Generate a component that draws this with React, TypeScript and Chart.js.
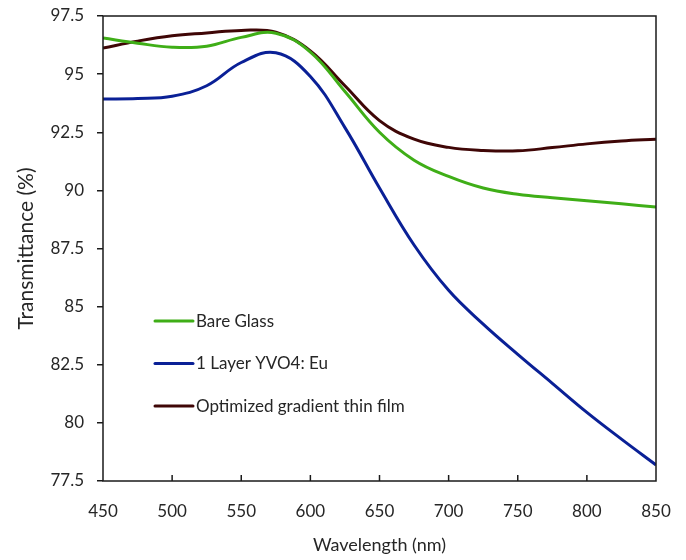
import React, { useEffect, useRef } from "react";
import { Chart, registerables } from "chart.js";

Chart.register(...registerables);

const wavelengths = [450, 475, 500, 525, 550, 575, 600, 625, 650, 675, 700, 725, 750, 775, 800, 825, 850];
const bareGlass = [96.55, 96.33, 96.16, 96.2, 96.58, 96.76, 95.95, 94.25, 92.5, 91.3, 90.6, 90.1, 89.83, 89.68, 89.55, 89.42, 89.28];
const oneLayer = [93.93, 93.95, 94.05, 94.5, 95.5, 95.92, 94.9, 92.7, 90.1, 87.65, 85.7, 84.25, 82.95, 81.7, 80.45, 79.3, 78.19];
const optimized = [96.12, 96.42, 96.65, 96.77, 96.88, 96.8, 96.0, 94.5, 93.0, 92.2, 91.85, 91.72, 91.7, 91.84, 92.0, 92.12, 92.2];
const seriesLabels = ["Bare Glass", "1 Layer YVO4: Eu", "Optimized gradient thin film"];
const seriesColors = ["#3fae17", "#0a2096", "#3f0606"];
const xTicks = [450, 500, 550, 600, 650, 700, 750, 800, 850];

const FONT = "Lato, 'Open Sans', sans-serif";

const framePlugin = {
  id: "frame",
  afterDatasetsDraw(chart: any) {
    const { ctx, chartArea, scales } = chart;
    ctx.save();
    ctx.strokeStyle = "#1a1a1a";
    ctx.lineWidth = 1.5;
    ctx.strokeRect(chartArea.left, chartArea.top, chartArea.right - chartArea.left, chartArea.bottom - chartArea.top);
    // inward x ticks
    const xs = scales.x;
    for (const v of xTicks) {
      if (v === xTicks[0] || v === xTicks[xTicks.length - 1]) continue;
      const px = xs.getPixelForValue(v);
      ctx.beginPath();
      ctx.moveTo(px, chartArea.bottom);
      ctx.lineTo(px, chartArea.bottom - 6);
      ctx.stroke();
    }
    // legend inside plot
    const h = chartArea.bottom - chartArea.top;
    const x0 = chartArea.left + 52;
    const x1 = chartArea.left + 90;
    let y = chartArea.top + 0.656 * h;
    const step = 42.5;
    ctx.font = `17px ${FONT}`;
    ctx.textBaseline = "middle";
    ctx.textAlign = "left";
    chart.data.datasets.forEach((ds: any) => {
      ctx.strokeStyle = ds.borderColor;
      ctx.lineWidth = 3;
      ctx.lineCap = "round";
      ctx.beginPath();
      ctx.moveTo(x0, y);
      ctx.lineTo(x1, y);
      ctx.stroke();
      ctx.fillStyle = "#262626";
      ctx.fillText(ds.label, x1 + 3, y);
      y += step;
    });
    ctx.restore();
  },
};

export default function App() {
  const canvasRef = useRef<HTMLCanvasElement | null>(null);

  useEffect(() => {
    if (!canvasRef.current) return;
    const chart = new Chart(canvasRef.current, {
      type: "line",
      data: {
        datasets: [bareGlass, oneLayer, optimized].map((vals, i) => ({
          label: seriesLabels[i],
          data: wavelengths.map((w, j) => ({ x: w, y: vals[j] })),
          borderColor: seriesColors[i],
          backgroundColor: seriesColors[i],
          borderWidth: 3,
          pointRadius: 0,
          tension: 0.4,
          fill: false,
        })),
      },
      options: {
        responsive: false,
        animation: false,
        layout: { padding: { top: 16, right: 30, left: 0, bottom: 0 } },
        plugins: {
          legend: { display: false },
          tooltip: { enabled: false },
        },
        scales: {
          x: {
            type: "linear",
            min: 450,
            max: 850,
            afterBuildTicks: (scale: any) => {
              scale.ticks = xTicks.map((v) => ({ value: v }));
            },
            afterFit: (scale: any) => {
              scale.height = 79;
              scale.paddingRight = 0;
              scale.paddingLeft = 0;
            },
            grid: { display: false, drawTicks: false },
            border: { display: false },
            ticks: {
              padding: 20,
              color: "#262626",
              font: { family: FONT, size: 17 },
            },
            title: {
              display: true,
              text: "Wavelength (nm)",
              color: "#262626",
              font: { family: FONT, size: 18 },
              padding: { top: 0, bottom: 4 },
            },
          },
          y: {
            min: 77.5,
            max: 97.5,
            ticks: {
              stepSize: 2.5,
              padding: 13,
              color: "#262626",
              font: { family: FONT, size: 17 },
            },
            afterFit: (scale: any) => {
              scale.width = 103;
              scale.paddingTop = 0;
              scale.paddingBottom = 0;
            },
            grid: {
              drawOnChartArea: false,
              drawTicks: true,
              tickLength: 6,
              color: "#1a1a1a",
              lineWidth: 1.5,
            },
            border: { display: false },
            title: {
              display: true,
              text: "Transmittance (%)",
              color: "#262626",
              font: { family: FONT, size: 21 },
              padding: { top: 14, bottom: 0 },
            },
          },
        },
      },
      plugins: [framePlugin],
    });
    return () => chart.destroy();
  }, []);

  return (
    <div style={{ position: "absolute", left: 0, top: 0, width: 686, height: 560, background: "#fff" }}>
      <canvas ref={canvasRef} width={686} height={560} />
    </div>
  );
}
